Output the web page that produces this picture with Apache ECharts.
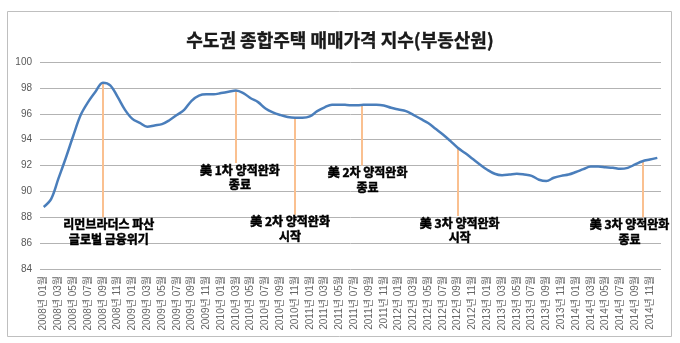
<!DOCTYPE html>
<html><head><meta charset="utf-8">
<script src="https://cdn.jsdelivr.net/npm/echarts@6/dist/echarts.min.js"></script>
<style>html,body{margin:0;padding:0;background:#fff}#c{width:680px;height:343px}</style>
</head><body><div id="c"></div>
<script>
var years = [2008, 2009, 2010, 2011, 2012, 2013, 2014];
var categories = [];
years.forEach(function (y) {
  for (var m = 1; m <= 12; m++) categories.push(y + '년 ' + (m < 10 ? '0' + m : m) + '월');
});
var priceIndex = [
  88.8, 89.4, 91.0, 92.6, 94.3, 95.9, 96.9, 97.7, 98.4, 98.2, 97.3, 96.3,
  95.6, 95.3, 95.0, 95.1, 95.2, 95.5, 95.9, 96.3, 97.0, 97.4, 97.5, 97.5,
  97.6, 97.7, 97.8, 97.6, 97.2, 96.9, 96.4, 96.1, 95.9, 95.75, 95.7, 95.7,
  95.8, 96.2, 96.5, 96.7, 96.7, 96.68, 96.65, 96.68, 96.7, 96.7, 96.64, 96.46,
  96.33, 96.2, 95.92, 95.6, 95.28, 94.84, 94.4, 93.9, 93.37, 92.96, 92.52, 92.08,
  91.67, 91.36, 91.25, 91.3, 91.36, 91.3, 91.2, 90.9, 90.8, 91.05, 91.2, 91.3,
  91.5, 91.72, 91.92, 91.92, 91.87, 91.82, 91.74, 91.82, 92.08, 92.33, 92.46, 92.59
];
var yTicks = [84, 86, 88, 90, 92, 94, 96, 98, 100];
// annotation events: category index, bottom value of guide line, text
var eventIdx = [8, 26, 34, 43, 56, 81];
var eventBottom = [88.0, 92.2, 88.2, 92.0, 88.1, 88.0];
var eventText = [
  '리먼브라더스 파산\n글로벌 금융위기',
  '美 1차 양적완화\n종료',
  '美 2차 양적완화\n시작',
  '美 2차 양적완화\n종료',
  '美 3차 양적완화\n시작',
  '美 3차 양적완화\n종료'
];
var eventOffsetX = [6, 4, -5, 6, 2, -13];

var chart = echarts.init(document.getElementById('c'));
var markLines = eventIdx.map(function (i, k) {
  return [{ coord: [i, priceIndex[i]] }, { coord: [i, eventBottom[k]] }];
});
var markPoints = eventIdx.map(function (i, k) {
  return {
    coord: [i, eventBottom[k]],
    label: { offset: [eventOffsetX[k], 0] },
    value: eventText[k]
  };
});
var font = '"Noto Sans CJK KR", "Noto Sans", sans-serif';
chart.setOption({
  animation: false,
  title: {
    text: '수도권 종합주택 매매가격 지수(부동산원)',
    left: 'center', top: 26,
    textStyle: { fontSize: 18, fontWeight: 'bold', color: '#1a1a1a', fontFamily: font,
      textBorderColor: '#1a1a1a', textBorderWidth: 0.4 }
  },
  graphic: [{
    type: 'rect', shape: { x: 7.5, y: 11.5, width: 664, height: 325 },
    style: { fill: 'none', stroke: '#bfbfbf', lineWidth: 1 }, silent: true
  }],
  grid: { left: 40, right: 19, top: 62, bottom: 74 },
  xAxis: {
    type: 'category', data: categories, boundaryGap: true,
    axisLine: { show: false }, axisTick: { show: false },
    axisLabel: { interval: 1, rotate: 90, fontSize: 10, color: '#666666', margin: 7,
      fontFamily: '"Liberation Sans", "Noto Sans CJK KR", sans-serif' }
  },
  yAxis: {
    type: 'value', min: yTicks[0], max: yTicks[yTicks.length - 1], interval: 2,
    axisLine: { show: false }, axisTick: { show: false },
    axisLabel: { fontSize: 10, color: '#595959', margin: 8,
      fontFamily: '"Liberation Sans", sans-serif' },
    splitLine: { lineStyle: { color: '#b3b3b3', width: 1 } }
  },
  series: [{
    type: 'line', data: priceIndex, smooth: 0.35, symbol: 'none',
    lineStyle: { color: '#4a7ebb', width: 2.5 },
    z: 3,
    markLine: {
      silent: true, symbol: ['none', 'none'],
      lineStyle: { color: '#fac090', width: 2, type: 'solid' },
      label: { show: false },
      data: markLines, z: 2
    },
    markPoint: {
      silent: true, symbol: 'circle', symbolSize: 0,
      itemStyle: { color: 'transparent' },
      label: {
        show: true, position: 'bottom', distance: 0,
        fontSize: 12, fontWeight: 'bold', color: '#000', lineHeight: 14.5,
        textBorderColor: '#000', textBorderWidth: 0.5,
        fontFamily: font, align: 'center',
        formatter: function (p) { return p.data.value; }
      },
      data: markPoints
    }
  }]
});
</script></body></html>
